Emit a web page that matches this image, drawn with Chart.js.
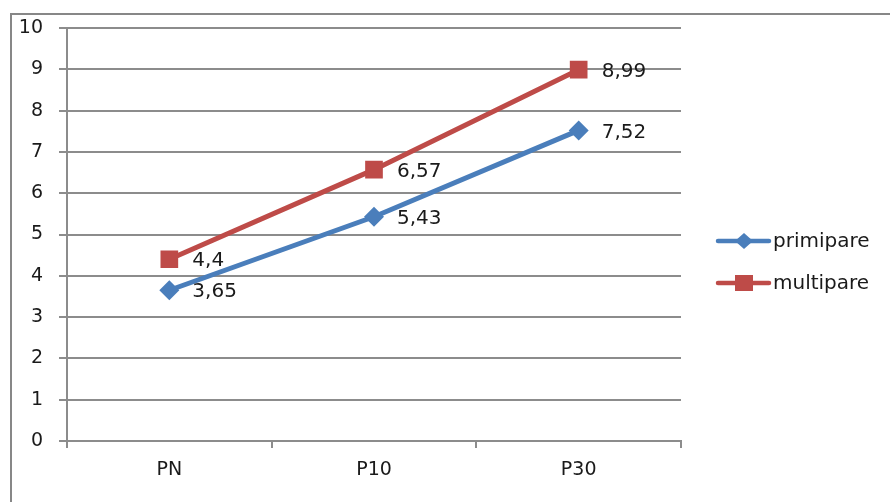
<!DOCTYPE html>
<html>
<head>
    <meta charset="UTF-8">
    <title>primipare / multipare</title>
    <script src="https://cdn.jsdelivr.net/npm/chart.js@4.4.0/dist/chart.umd.min.js"></script>
    <style>
        body { margin: 0; background: #fff; }
        #wrap { width: 890px; height: 502px; position: relative; }
    </style>
</head>
<body>
<div id="wrap"><canvas id="lineChart"></canvas></div>
<script>
    const categories = ["PN", "P10", "P30"];
    const primipare = [3.65, 5.43, 7.52];
    const multipare = [4.4, 6.57, 8.99];
    const seriesNames = ["primipare", "multipare"];
    const yTicks = [0, 1, 2, 3, 4, 5, 6, 7, 8, 9, 10];

    const BLUE = "#4a7ebb";
    const RED = "#be4b48";
    const GRID = "#8c8c8c";
    const FONT = "'DejaVu Sans', sans-serif";

    // outer frame, like the excel chart border
    const framePlugin = {
        id: "frame",
        beforeDraw(chart) {
            const ctx = chart.ctx;
            ctx.save();
            ctx.strokeStyle = "#878787";
            ctx.lineWidth = 2;
            ctx.beginPath();
            ctx.moveTo(11, 510);
            ctx.lineTo(11, 14);
            ctx.lineTo(900, 14);
            ctx.stroke();
            ctx.restore();
        }
    };

    // value labels to the right of each point
    const labelPlugin = {
        id: "valueLabels",
        afterDatasetsDraw(chart) {
            const ctx = chart.ctx;
            ctx.save();
            ctx.font = "20px " + FONT;
            ctx.fillStyle = "#1a1a1a";
            ctx.textBaseline = "middle";
            chart.data.datasets.forEach((ds, i) => {
                chart.getDatasetMeta(i).data.forEach((pt, j) => {
                    ctx.fillText(String(ds.data[j]).replace(".", ","), pt.x + 23, pt.y + 2);
                });
            });
            ctx.restore();
        }
    };

    // legend on the right with line + marker
    const legendPlugin = {
        id: "sideLegend",
        afterDraw(chart) {
            const ctx = chart.ctx;
            ctx.save();
            ctx.font = "20px " + FONT;
            ctx.textBaseline = "middle";
            chart.data.datasets.forEach((ds, i) => {
                const y = 241 + i * 42;
                ctx.strokeStyle = ds.borderColor;
                ctx.lineWidth = 4.5;
                ctx.lineCap = "round";
                ctx.beginPath();
                ctx.moveTo(718, y);
                ctx.lineTo(769, y);
                ctx.stroke();
                ctx.fillStyle = ds.borderColor;
                ctx.beginPath();
                if (ds.pointStyle === "rectRot") {
                    ctx.moveTo(744, y - 8);
                    ctx.lineTo(753, y);
                    ctx.lineTo(744, y + 8);
                    ctx.lineTo(735, y);
                    ctx.closePath();
                } else {
                    ctx.rect(735, y - 8, 18, 16);
                }
                ctx.fill();
                ctx.fillStyle = "#1a1a1a";
                ctx.fillText(ds.label, 773, y + 1);
            });
            ctx.restore();
        }
    };

    new Chart(document.getElementById("lineChart"), {
        type: "line",
        data: {
            labels: categories,
            datasets: [
                {
                    label: seriesNames[0],
                    data: primipare,
                    borderColor: BLUE,
                    backgroundColor: BLUE,
                    borderWidth: 5,
                    pointStyle: "rectRot",
                    pointRadius: 10,
                    pointBorderWidth: 0,
                    tension: 0
                },
                {
                    label: seriesNames[1],
                    data: multipare,
                    borderColor: RED,
                    backgroundColor: RED,
                    borderWidth: 5,
                    pointStyle: "rect",
                    pointRadius: 12.5,
                    pointBorderWidth: 0,
                    tension: 0
                }
            ]
        },
        options: {
            responsive: true,
            maintainAspectRatio: false,
            animation: false,
            layout: { padding: { top: 28, right: 209, bottom: 0, left: 0 } },
            plugins: {
                legend: { display: false },
                tooltip: { enabled: false }
            },
            scales: {
                x: {
                    offset: true,
                    grid: {
                        offset: true,
                        drawOnChartArea: false,
                        color: GRID,
                        lineWidth: 2,
                        tickLength: 7
                    },
                    border: { color: GRID, width: 2 },
                    ticks: {
                        color: "#1a1a1a",
                        font: { family: FONT, size: 19 },
                        padding: 11
                    },
                    afterFit(scale) { scale.height = 61; }
                },
                y: {
                    min: 0,
                    max: 10,
                    afterBuildTicks(scale) { scale.ticks = yTicks.map(v => ({ value: v })); },
                    grid: {
                        color: GRID,
                        lineWidth: 2,
                        tickLength: 8
                    },
                    border: { color: GRID, width: 2 },
                    ticks: {
                        color: "#1a1a1a",
                        font: { family: FONT, size: 19 },
                        padding: 16
                    },
                    afterFit(scale) { scale.width = 67; }
                }
            }
        },
        plugins: [framePlugin, labelPlugin, legendPlugin]
    });
</script>
</body>
</html>
